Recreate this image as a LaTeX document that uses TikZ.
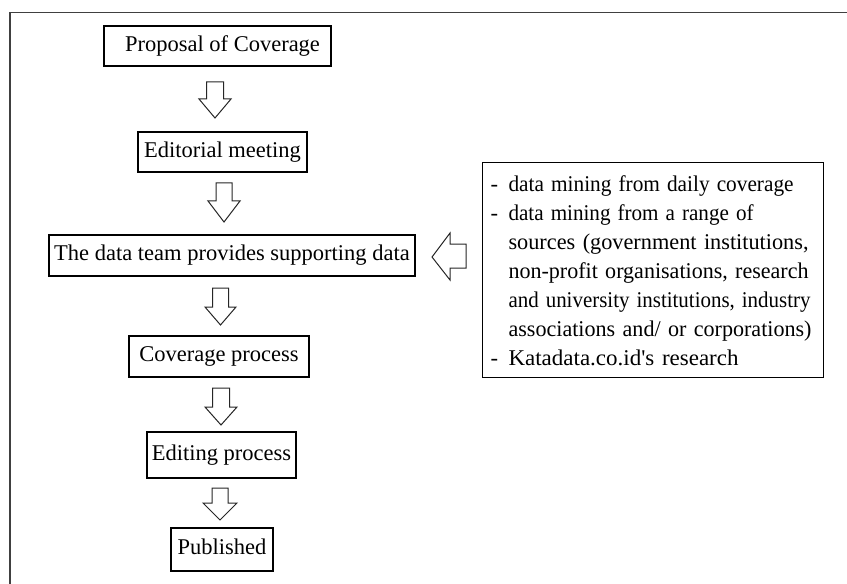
\documentclass[tikz,border=0pt]{standalone}
\usepackage{graphicx}
\usepackage{fontspec}
\setmainfont{Liberation Serif}[Ligatures=TeXOff]
\newcommand{\srcline}[3]{\hspace*{4bp}\makebox[18bp][l]{#1}\resizebox{#2bp}{\height}{#3}}
\begin{document}
\begin{tikzpicture}[x=1bp,y=-1bp,
  txt/.style={font=\fontsize{22.5bp}{29bp}\selectfont},
  stepbox/.style={txt,draw=black,line width=1.1bp,inner sep=0pt,
    text height=15.5bp,text depth=5bp},
  blk/.style={draw=black!85,line width=1bp,fill=white,line join=miter}]
\useasboundingbox (0,0) rectangle (847,584);
% outer frame (only top and left visible)
\draw[line width=1.4bp,black!75] (10,590) -- (10,12.5) -- (850,12.5);
% step boxes
\node[stepbox,minimum width=227bp,minimum height=40bp] (prop) at (217.5,46) {\hspace{10bp}Proposal of Coverage};
\node[stepbox,minimum width=169bp,minimum height=40bp] (edit) at (222.5,152) {Editorial meeting\hspace{5bp}};
\node[stepbox,minimum width=366bp,minimum height=41bp] (team) at (232,255.5) {The data team provides supporting data};
\node[stepbox,minimum width=180bp,minimum height=41bp] (cov) at (219,356.5) {Coverage process};
\node[stepbox,minimum width=149bp,minimum height=46bp] (edp) at (221.5,455) {Editing process};
\node[stepbox,minimum width=102bp,minimum height=43bp] (pub) at (222,549.5) {Published};
% sources box
\node[txt,draw=black,line width=1.1bp,anchor=north west,
  align=left,inner xsep=4bp,inner ysep=0pt,text width=333bp] (src) at (482,162)
 {\rule{0pt}{28.7bp}\srcline{-}{285}{data mining from daily coverage}\\
  \srcline{-}{245}{data mining from a range of}\\
  \srcline{}{300}{sources (government institutions,}\\
  \srcline{}{300}{non-profit organisations, research}\\
  \srcline{}{302}{and university institutions, industry}\\
  \srcline{}{303}{associations and/ or corporations)}\\
  \srcline{-}{230}{Katadata.co.id's research}\rule[-12.3bp]{0pt}{1bp}};
% block arrows between steps
\newcommand{\blkdown}[6]{% cx, shaft hw, head hw, top, neck, tip
  \draw[blk] ({#1-#2},#4) -- ({#1+#2},#4) -- ({#1+#2},#5) -- ({#1+#3},#5)
    -- (#1,#6) -- ({#1-#3},#5) -- ({#1-#2},#5) -- cycle;}
\blkdown{215}{8.5}{16}{82}{99}{118}
\blkdown{224}{8}{16}{183}{201}{222}
\blkdown{220.5}{8}{15.5}{288}{307}{325}
\blkdown{221}{8.5}{16}{388}{407}{425}
\blkdown{220}{8}{17}{488}{503}{520}
% left arrow from sources to data team
\draw[blk] (466,244) -- (466,268) -- (450,268) -- (450,280) -- (432,257)
  -- (450,233) -- (450,244) -- cycle;
\end{tikzpicture}
\end{document}
